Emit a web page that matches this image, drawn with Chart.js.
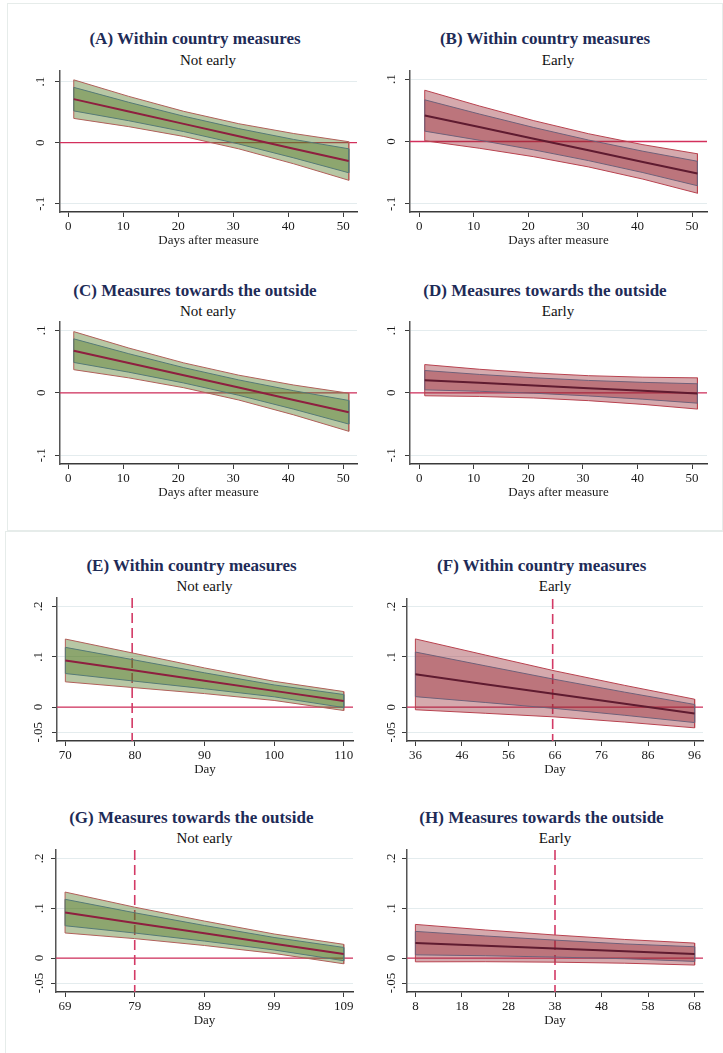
<!DOCTYPE html>
<html><head><meta charset="utf-8">
<script src="https://cdn.jsdelivr.net/npm/chart.js@4.4.1/dist/chart.umd.min.js"></script>
<style>
html,body{margin:0;padding:0;background:#fff;width:723px;height:1053px;overflow:hidden;position:relative;font-family:"Liberation Serif","Times New Roman",serif;}
.frame{position:absolute;border:1px solid #e6ecea;box-sizing:border-box;}
.ttl{position:absolute;white-space:nowrap;transform:translate(-50%,-50%);font-weight:bold;font-size:17px;color:#1e2b57;line-height:1;}
.sub{position:absolute;white-space:nowrap;transform:translate(-50%,-50%);font-size:15px;color:#111;line-height:1;}
canvas{position:absolute;}
</style></head><body>
<div class="frame" style="left:7px;top:3px;width:716px;height:528px;"></div>
<div class="frame" style="left:5px;top:531px;width:720px;height:540px;"></div>
<script>
// ---------- text ----------
const titles = ['(A) Within country measures','(B) Within country measures','(C) Measures towards the outside','(D) Measures towards the outside','(E) Within country measures','(F) Within country measures','(G) Measures towards the outside','(H) Measures towards the outside'];
const subtitles = ['Not early','Early','Not early','Early','Not early','Early','Not early','Early'];
const xAxisTitles = ['Days after measure','Days after measure','Days after measure','Days after measure','Day','Day','Day','Day'];

// ---------- ticks ----------
const xTicksAD = [0,10,20,30,40,50];
const yTicksAD = [-0.1,0,0.1];
const yTickLabelsAD = ['-.1','0','.1'];
const xTicksE = [70,80,90,100,110];
const xTicksF = [36,46,56,66,76,86,96];
const xTicksG = [69,79,89,99,109];
const xTicksH = [8,18,28,38,48,58,68];
const yTicksEH = [-0.05,0,0.1,0.2];
const yTickLabelsEH = ['-.05','0','.1','.2'];

// ---------- data ----------
const daysAD = [1,11,21,31,41,51];
const centerA  = [0.0714,0.0511,0.0308,0.0105,-0.0098,-0.0300];
const outerHiA = [0.1030,0.0759,0.0514,0.0311,0.0150,0.0016];
const outerLoA = [0.0398,0.0263,0.0102,-0.0101,-0.0346,-0.0616];
const innerHiA = [0.0907,0.0662,0.0434,0.0231,0.0053,-0.0100];
const innerLoA = [0.0521,0.0360,0.0182,-0.0021,-0.0249,-0.0493];

const centerB  = [0.0417,0.0231,0.0045,-0.0141,-0.0327,-0.0513];
const outerHiB = [0.0822,0.0570,0.0334,0.0125,-0.0051,-0.0197];
const outerLoB = [0.0012,-0.0108,-0.0244,-0.0407,-0.0603,-0.0829];
const innerHiB = [0.0668,0.0441,0.0224,0.0024,-0.0156,-0.0317];
const innerLoB = [0.0166,0.0021,-0.0134,-0.0306,-0.0498,-0.0709];

const centerC  = [0.0676,0.0479,0.0281,0.0084,-0.0114,-0.0311];
const outerHiC = [0.0981,0.0718,0.0480,0.0283,0.0125,-0.0006];
const outerLoC = [0.0371,0.0240,0.0082,-0.0115,-0.0353,-0.0616];
const innerHiC = [0.0865,0.0627,0.0404,0.0207,0.0034,-0.0122];
const innerLoC = [0.0487,0.0331,0.0158,-0.0039,-0.0262,-0.0500];

const centerD  = [0.0203,0.0160,0.0118,0.0075,0.0033,-0.0010];
const outerHiD = [0.0453,0.0378,0.0318,0.0275,0.0251,0.0240];
const outerLoD = [-0.0047,-0.0058,-0.0082,-0.0125,-0.0185,-0.0260];
const innerHiD = [0.0358,0.0295,0.0242,0.0199,0.0168,0.0145];
const innerLoD = [0.0048,0.0025,-0.0006,-0.0049,-0.0102,-0.0165];

const daysE = [70,80,90,100,110];
const centerE  = [0.0927,0.0725,0.0523,0.0322,0.0120];
const outerHiE = [0.1352,0.1065,0.0778,0.0512,0.0308];
const outerLoE = [0.0502,0.0385,0.0268,0.0132,-0.0068];
const innerHiE = [0.1187,0.0935,0.0681,0.0440,0.0250];
const innerLoE = [0.0667,0.0515,0.0365,0.0204,-0.0010];
const dashedE = 79.6;

const daysF = [36,51,66,81,96];
const centerF  = [0.0653,0.0458,0.0263,0.0068,-0.0127];
const outerHiF = [0.1358,0.1038,0.0721,0.0433,0.0158];
const outerLoF = [-0.0052,-0.0122,-0.0195,-0.0297,-0.0412];
const innerHiF = [0.1097,0.0823,0.0552,0.0298,0.0053];
const innerLoF = [0.0209,0.0093,-0.0026,-0.0162,-0.0307];
const dashedF = 65.5;

const daysG = [69,79,89,99,109];
const centerG  = [0.0913,0.0705,0.0497,0.0288,0.0080];
const outerHiG = [0.1323,0.1020,0.0742,0.0483,0.0275];
const outerLoG = [0.0503,0.0390,0.0252,0.0093,-0.0115];
const innerHiG = [0.1178,0.0908,0.0653,0.0413,0.0213];
const innerLoG = [0.0648,0.0502,0.0341,0.0163,-0.0053];
const dashedG = 79;

const daysH = [8,23,38,53,68];
const centerH  = [0.0300,0.0245,0.0190,0.0135,0.0080];
const outerHiH = [0.0675,0.0563,0.0462,0.0373,0.0300];
const outerLoH = [-0.0075,-0.0073,-0.0082,-0.0103,-0.0140];
const innerHiH = [0.0535,0.0443,0.0360,0.0283,0.0227];
const innerLoH = [0.0065,0.0047,0.0020,-0.0013,-0.0067];
const dashedH = 38;

const zeroValue = 0;

// ---------- styles ----------
const greenStyle = {fill:'rgba(79,118,33,0.41)', outerLine:'#b0605a', innerLine:'#557a76', centerLine:'#8e1f3f'};
const redStyle   = {fill:'rgba(150,40,50,0.40)', outerLine:'#b8424f', innerLine:'#6f6079', centerLine:'#5f1b30'};
const FONT = '"Liberation Serif","Times New Roman",serif';

const panels = [
 {days:daysAD,c:centerA,oh:outerHiA,ol:outerLoA,ih:innerHiA,il:innerLoA,xt:xTicksAD,yt:yTicksAD,yl:yTickLabelsAD,dash:null,st:greenStyle,
  L:60,T:71,R:357,B:212,xr:[-1.5,52.5],yr:[-0.1136,0.1175],tx:195,ty:38,sx:208,sy:59.5,lo:19},
 {days:daysAD,c:centerB,oh:outerHiB,ol:outerLoB,ih:innerHiB,il:innerLoB,xt:xTicksAD,yt:yTicksAD,yl:yTickLabelsAD,dash:null,st:redStyle,
  L:410,T:71,R:707,B:212,xr:[-1.7,52.75],yr:[-0.113,0.113],tx:545,ty:38,sx:558,sy:59.5,lo:18},
 {days:daysAD,c:centerC,oh:outerHiC,ol:outerLoC,ih:innerHiC,il:innerLoC,xt:xTicksAD,yt:yTicksAD,yl:yTickLabelsAD,dash:null,st:greenStyle,
  L:60,T:322,R:357,B:464,xr:[-1.5,52.5],yr:[-0.114,0.1135],tx:195,ty:290,sx:208,sy:310.7,lo:18},
 {days:daysAD,c:centerD,oh:outerHiD,ol:outerLoD,ih:innerHiD,il:innerLoD,xt:xTicksAD,yt:yTicksAD,yl:yTickLabelsAD,dash:null,st:redStyle,
  L:410,T:322,R:707,B:464,xr:[-1.7,52.75],yr:[-0.114,0.1135],tx:545,ty:290,sx:558,sy:310.7,lo:18},
 {days:daysE,c:centerE,oh:outerHiE,ol:outerLoE,ih:innerHiE,il:innerLoE,xt:xTicksE,yt:yTicksEH,yl:yTickLabelsEH,dash:dashedE,st:greenStyle,
  L:57,T:598,R:353,B:741,xr:[68.8,111.33],yr:[-0.0674,0.2168],tx:191.5,ty:565,sx:204.5,sy:586,lo:18},
 {days:daysF,c:centerF,oh:outerHiF,ol:outerLoF,ih:innerHiF,il:innerLoF,xt:xTicksF,yt:yTicksEH,yl:yTickLabelsEH,dash:dashedF,st:redStyle,
  L:407,T:599,R:703,B:741,xr:[34.2,97.8],yr:[-0.0674,0.2153],tx:541.7,ty:565,sx:555,sy:586,lo:15},
 {days:daysG,c:centerG,oh:outerHiG,ol:outerLoG,ih:innerHiG,il:innerLoG,xt:xTicksG,yt:yTicksEH,yl:yTickLabelsEH,dash:dashedG,st:greenStyle,
  L:56,T:850,R:353,B:992,xr:[67.7,110.33],yr:[-0.068,0.2166],tx:191.3,ty:816.7,sx:204.5,sy:838.3,lo:16},
 {days:daysH,c:centerH,oh:outerHiH,ol:outerLoH,ih:innerHiH,il:innerLoH,xt:xTicksH,yt:yTicksEH,yl:yTickLabelsEH,dash:dashedH,st:redStyle,
  L:407,T:850,R:703,B:992,xr:[6.2,69.8],yr:[-0.068,0.2166],tx:541.5,ty:816.7,sx:555,sy:838.3,lo:15}
];

const W = 40, PADTOP = 6, PADRIGHT = 12, H = 36;

const refLines = {
  id:'refLines',
  beforeDatasetsDraw(chart, args, opts){
    const {ctx, chartArea:a, scales:{x,y}} = chart;
    ctx.save();
    const yz = y.getPixelForValue(zeroValue);
    ctx.strokeStyle = '#d3305c'; ctx.lineWidth = 1.3;
    ctx.beginPath(); ctx.moveTo(a.left, yz); ctx.lineTo(a.right, yz); ctx.stroke();
    if (opts.dash !== null && opts.dash !== undefined) {
      const xd = x.getPixelForValue(opts.dash);
      ctx.strokeStyle = '#d33a66'; ctx.lineWidth = 1.6; ctx.setLineDash([10,5]);
      ctx.beginPath(); ctx.moveTo(xd, a.top); ctx.lineTo(xd, a.bottom); ctx.stroke();
    }
    ctx.restore();
  },
  afterDraw(chart, args, opts){
    const {ctx, chartArea:a, scales:{y}} = chart;
    ctx.save();
    ctx.font = '13px ' + FONT; ctx.fillStyle = '#1a1a1a';
    ctx.textAlign = 'center'; ctx.textBaseline = 'middle';
    opts.yt.forEach((v,i) => {
      const py = y.getPixelForValue(v);
      ctx.save(); ctx.translate(a.left - opts.lo, py); ctx.rotate(-Math.PI/2);
      ctx.fillText(opts.yl[i], 0, 0); ctx.restore();
    });
    ctx.restore();
  }
};

function band(days, hi, lo){
  const pts = hi.map((v,i)=>({x:days[i], y:v}));
  const back = lo.map((v,i)=>({x:days[i], y:v})).reverse();
  const all = pts.concat(back);
  all.push({x:days[0], y:hi[0]});
  return all;
}

panels.forEach((p, idx) => {
  const t = document.createElement('div'); t.className='ttl'; t.textContent = titles[idx];
  t.style.left = p.tx+'px'; t.style.top = p.ty+'px'; document.body.appendChild(t);
  const s = document.createElement('div'); s.className='sub'; s.textContent = subtitles[idx];
  s.style.left = p.sx+'px'; s.style.top = p.sy+'px'; document.body.appendChild(s);

  const cv = document.createElement('canvas');
  const cw = W + (p.R - p.L) + PADRIGHT, ch = PADTOP + (p.B - p.T) + H;
  cv.width = cw; cv.height = ch;
  cv.style.width = cw+'px'; cv.style.height = ch+'px';
  cv.style.left = (p.L - W)+'px'; cv.style.top = (p.T - PADTOP)+'px';
  document.body.appendChild(cv);

  new Chart(cv, {
    type:'line',
    data:{datasets:[
      {data:band(p.days,p.oh,p.ol), fill:'shape', backgroundColor:p.st.fill, borderColor:p.st.outerLine, borderWidth:1, pointRadius:0, tension:0, order:3},
      {data:band(p.days,p.ih,p.il), fill:'shape', backgroundColor:p.st.fill, borderColor:p.st.innerLine, borderWidth:1, pointRadius:0, tension:0, order:2},
      {data:p.c.map((v,i)=>({x:p.days[i], y:v})), fill:false, borderColor:p.st.centerLine, borderWidth:2, pointRadius:0, tension:0, order:1}
    ]},
    options:{
      responsive:false, devicePixelRatio:1, animation:false,
      layout:{padding:{left:0, top:PADTOP, right:PADRIGHT, bottom:0}},
      plugins:{legend:{display:false}, tooltip:{enabled:false}, refLines:{dash:p.dash, yt:p.yt, yl:p.yl, lo:p.lo}},
      scales:{
        x:{type:'linear', min:p.xr[0], max:p.xr[1],
           afterBuildTicks: sc => { sc.ticks = p.xt.map(v=>({value:v})); },
           afterFit: sc => { sc.height = H; },
           ticks:{callback: v => String(v), font:{family:FONT, size:13}, color:'#1a1a1a', padding:2, maxRotation:0, autoSkip:false},
           grid:{drawOnChartArea:false, drawTicks:true, tickLength:5, tickColor:'#3a3a3a', tickWidth:1},
           border:{display:true, color:'#3a3a3a', width:1.5},
           title:{display:true, text:xAxisTitles[idx], font:{family:FONT, size:13}, color:'#1a1a1a', padding:{top:0,bottom:0}}
        },
        y:{type:'linear', min:p.yr[0], max:p.yr[1],
           afterBuildTicks: sc => { sc.ticks = p.yt.map(v=>({value:v})); },
           afterFit: sc => { sc.width = W; },
           ticks:{display:false},
           grid:{drawOnChartArea:true, color:'#e4ecee', lineWidth:1, drawTicks:true, tickLength:5, tickColor:'#3a3a3a', tickWidth:1},
           border:{display:true, color:'#555', width:1.5}
        }
      }
    },
    plugins:[refLines]
  });
});
</script>
</body></html>
